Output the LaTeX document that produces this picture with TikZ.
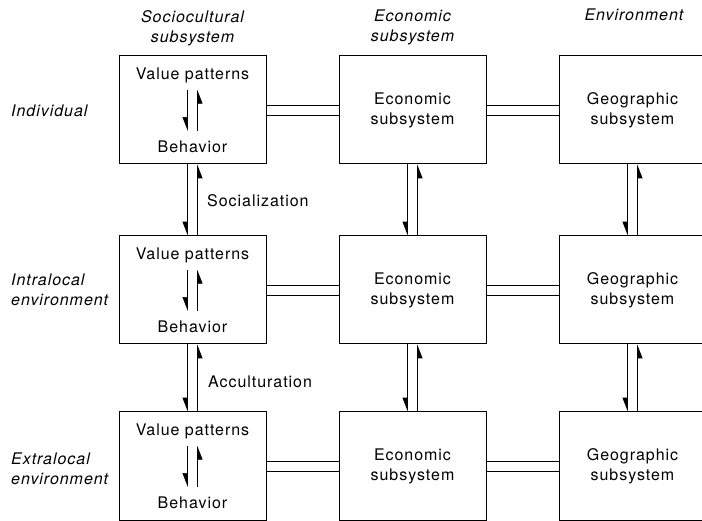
\documentclass[tikz,border=0pt]{standalone}
\usepackage{fontspec}
\setmainfont{TeX Gyre Heros}[LetterSpace=6]
\usetikzlibrary{arrows.meta}

\tikzset{
  sysbox/.style={draw, line width=1pt, minimum width=147pt, minimum height=108pt,
    align=center, inner sep=0pt, font=\fontsize{16}{20}\selectfont},
  txt/.style={font=\fontsize{16}{20}\selectfont, inner sep=0pt},
  head/.style={font=\fontsize{16}{20}\selectfont\itshape, align=center, inner sep=0pt},
  link/.style={line width=0.6pt},
  harp/.style={line width=0.6pt, -{Triangle[right,length=13pt,width=10pt]}},
}

\begin{document}
\begin{tikzpicture}[x=1pt,y=-1pt]
    \useasboundingbox (0,0) rectangle (702,521);

    % column heads
    \node[head] (hsoc) at (192.5,28) {Sociocultural\\subsystem};
    \node[head] (heco) at (412.5,27) {Economic\\subsystem};
    \node[head] (henv) at (634,15) {Environment};

    % row heads
    \node[head, anchor=west, align=left] (rind) at (11,111) {Individual};
    \node[head, anchor=west, align=left] (rint) at (11,290) {Intralocal\\environment};
    \node[head, anchor=west, align=left] (rext) at (11,469) {Extralocal\\environment};

    % boxes
    \node[sysbox] (s1) at (192.5,110) {};
    \node[sysbox] (s2) at (192.5,290) {};
    \node[sysbox] (s3) at (192.5,466) {};
    \node[sysbox] (e1) at (412.5,110) {Economic\\subsystem};
    \node[sysbox] (e2) at (412.5,290) {Economic\\subsystem};
    \node[sysbox] (e3) at (412.5,466) {Economic\\subsystem};
    \node[sysbox] (g1) at (632.5,110) {Geographic\\subsystem};
    \node[sysbox] (g2) at (632.5,290) {Geographic\\subsystem};
    \node[sysbox] (g3) at (632.5,466) {Geographic\\subsystem};

    % inside the sociocultural boxes
    \foreach \r/\y in {1/110,2/290,3/466}{
        \node[txt] (vp\r) at (192.5,\y-35) {Value patterns};
        \node[txt] (bh\r) at (192.5,\y+37) {Behavior};
        \draw[harp, shorten <=7pt, shorten >=10pt] ([xshift=-5pt]vp\r.south) -- ([xshift=-5pt]bh\r.north);
        \draw[harp, shorten <=10pt, shorten >=7pt] ([xshift=5pt]bh\r.north) -- ([xshift=5pt]vp\r.south);
    }

    % horizontal double lines
    \foreach \r in {1,2,3}{
        \draw[link] ([yshift=5pt]s\r.east) -- ([yshift=5pt]e\r.west);
        \draw[link] ([yshift=-5pt]s\r.east) -- ([yshift=-5pt]e\r.west);
        \draw[link] ([yshift=5pt]e\r.east) -- ([yshift=5pt]g\r.west);
        \draw[link] ([yshift=-5pt]e\r.east) -- ([yshift=-5pt]g\r.west);
    }

    % vertical links
    \foreach \c in {s,e,g}{
        \foreach \a/\b in {1/2,2/3}{
            \draw[harp] ([xshift=-5pt]\c\a.south) -- ([xshift=-5pt]\c\b.north);
            \draw[harp] ([xshift=5pt]\c\b.north) -- ([xshift=5pt]\c\a.south);
        }
    }

    \node[txt, anchor=west] (soc) at (207,201) {Socialization};
    \node[txt, anchor=west] (acc) at (208,382) {Acculturation};
\end{tikzpicture}
\end{document}
